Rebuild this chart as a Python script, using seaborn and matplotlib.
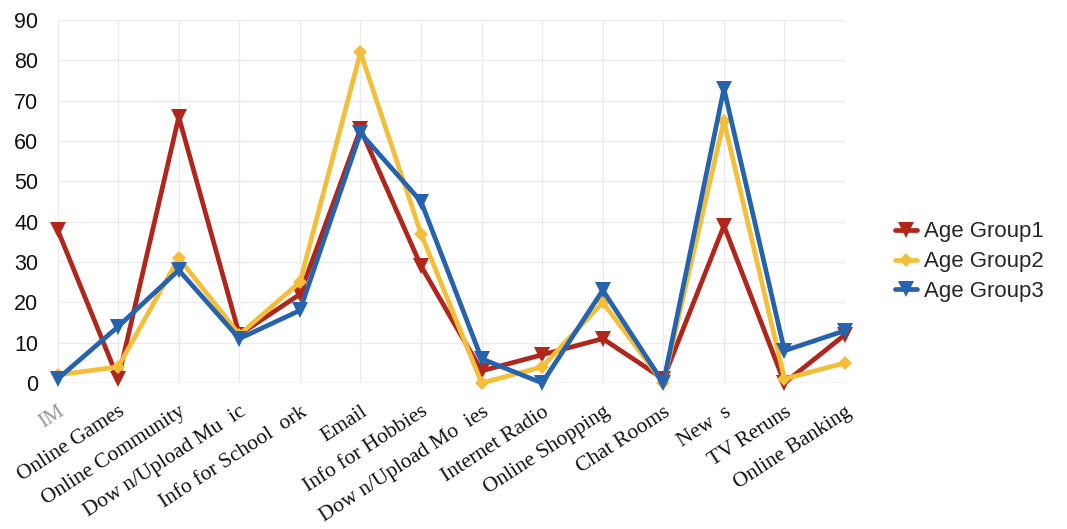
import matplotlib
matplotlib.use("Agg")
import matplotlib.pyplot as plt
import seaborn as sns
import pandas as pd

# Internet activities surveyed
categories = ["IM", "Online Games", "Online Community", "Dow n/Upload Mu  ic",
              "Info for School  ork", "Email", "Info for Hobbies",
              "Dow n/Upload Mo  ies", "Internet Radio", "Online Shopping",
              "Chat Rooms", "New  s", "TV Reruns", "Online Banking"]

# Responses per age group
group1 = [38, 1, 66, 12, 22, 63, 29, 3, 7, 11, 1, 39, 0, 12]
group2 = [2, 4, 31, 12, 25, 82, 37, 0, 4, 20, 0, 65, 1, 5]
group3 = [1, 14, 28, 11, 18, 62, 45, 6, 0, 23, 0, 73, 8, 13]

series_names = ["Age Group1", "Age Group2", "Age Group3"]
yticks = [0, 10, 20, 30, 40, 50, 60, 70, 80, 90]

rows = []
for name, vals in zip(series_names, [group1, group2, group3]):
    for i, v in enumerate(vals):
        rows.append({"pos": i, "value": v, "group": name})
df = pd.DataFrame(rows)

sns.set_theme(style="white")
plt.rcParams["font.family"] = ["Liberation Sans", "DejaVu Sans"]

fig = plt.figure(figsize=(10.67, 5.29), dpi=100)
ax = fig.add_axes([0.054, 0.276, 0.738, 0.686])

palette = {"Age Group1": "#B0261A", "Age Group2": "#F4BE3A", "Age Group3": "#2563AE"}
markers = {"Age Group1": "v", "Age Group2": "D", "Age Group3": "v"}
sizes = {"Age Group1": 11, "Age Group2": 7, "Age Group3": 11}

for name in series_names:
    sub = df[df["group"] == name]
    sns.lineplot(data=sub, x="pos", y="value", color=palette[name],
                 marker=markers[name], markersize=sizes[name],
                 markeredgewidth=0, linewidth=3.4, ax=ax, clip_on=False,
                 sort=False, label=name)

ax.set_xlim(0, len(categories) - 1)
ax.set_ylim(0, 90)
ax.set_yticks(yticks)
ax.set_yticklabels([str(t) for t in yticks], fontsize=15.5, color="#111111")
ax.set_xticks(range(len(categories)))
ax.set_xticklabels(categories, rotation=33, ha="right", rotation_mode="anchor",
                   fontsize=15.5, family=["Liberation Serif", "DejaVu Serif"],
                   color="#111111")
ax.get_xticklabels()[0].set_color("#999999")
ax.tick_params(axis="x", pad=14, length=0)
ax.tick_params(axis="y", pad=14, length=0)
ax.set_xlabel("")
ax.set_ylabel("")

ax.grid(True, color="#ebebeb", linewidth=1.0)
for s in ax.spines.values():
    s.set_visible(False)
ax.axhline(0, color="#e0e0e0", linewidth=1.0, zorder=0)

handles, labels = ax.get_legend_handles_labels()
ax.legend(handles, labels, loc="center left", bbox_to_anchor=(0.82, 0.505),
          bbox_transform=fig.transFigure, frameon=False, fontsize=16,
          handlelength=1.0, handletextpad=0.3, labelspacing=0.4)

fig.savefig("out.png", dpi=100)
